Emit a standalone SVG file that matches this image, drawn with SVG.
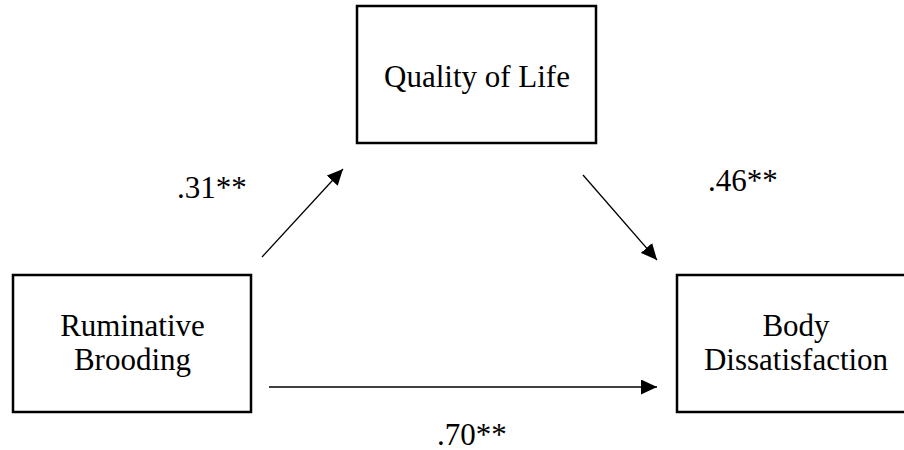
<svg xmlns="http://www.w3.org/2000/svg" width="904" height="450" viewBox="0 0 904 450">
  <style>
    .box { fill: #ffffff; stroke: #000000; stroke-width: 2.5; }
    .label { font-family: "Liberation Serif", "Times New Roman", serif; font-size: 31px; fill: #000000; text-anchor: middle; }
    .coef { font-family: "Liberation Serif", "Times New Roman", serif; font-size: 31px; fill: #000000; }
    .edge { stroke: #000000; stroke-width: 1.3; fill: none; marker-end: url(#head); }
  </style>
  <defs>
    <marker id="head" viewBox="0 0 16 15" refX="16" refY="7.5" markerWidth="16" markerHeight="15" markerUnits="userSpaceOnUse" orient="auto">
      <path d="M0,0 L16,7.5 L0,15 Z" fill="#000000"/>
    </marker>
  </defs>
  <rect width="904" height="450" fill="#ffffff"/>

  <g id="quality-of-life">
    <rect class="box" x="357" y="6" width="239" height="137"/>
    <text class="label" x="477" y="87">Quality of Life</text>
  </g>

  <g id="ruminative-brooding">
    <rect class="box" x="13" y="275" width="238" height="137"/>
    <text class="label" x="132.5" y="336">Ruminative</text>
    <text class="label" x="132.5" y="370">Brooding</text>
  </g>

  <g id="body-dissatisfaction">
    <rect class="box" x="677" y="275" width="239" height="137"/>
    <text class="label" x="796" y="336">Body</text>
    <text class="label" x="796" y="370">Dissatisfaction</text>
  </g>

  <g id="connectors">
    <line class="edge" x1="262" y1="257" x2="343" y2="169"/>
    <line class="edge" x1="583" y1="175" x2="657" y2="260"/>
    <line class="edge" x1="269" y1="387" x2="657" y2="387"/>
    <text class="coef" x="177" y="198">.31**</text>
    <text class="coef" x="708" y="191">.46**</text>
    <text class="coef" x="437" y="445">.70**</text>
  </g>
</svg>
